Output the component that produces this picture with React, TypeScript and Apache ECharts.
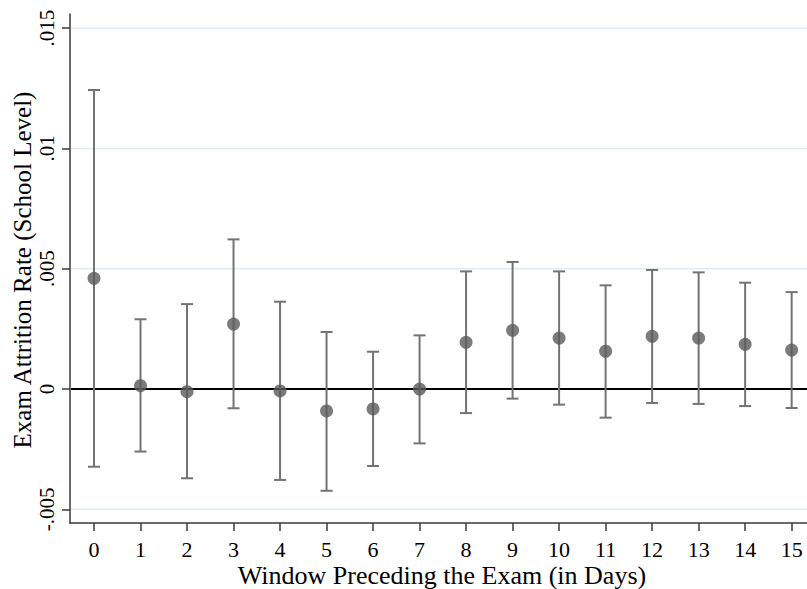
import React, { useEffect, useRef } from "react";
import * as echarts from "echarts";

const days = [0, 1, 2, 3, 4, 5, 6, 7, 8, 9, 10, 11, 12, 13, 14, 15];
const estimates = [0.0046, 0.00014, -0.00011, 0.0027, -0.00008, -0.00091, -0.00083, 0.0, 0.00194, 0.00244, 0.00212, 0.00157, 0.00219, 0.00212, 0.00186, 0.00162];
const upperCI = [0.01243, 0.0029, 0.00353, 0.00622, 0.00363, 0.00237, 0.00155, 0.00223, 0.00489, 0.00528, 0.00489, 0.00431, 0.00495, 0.00485, 0.00442, 0.00403];
const lowerCI = [-0.00323, -0.0026, -0.00371, -0.0008, -0.00378, -0.00423, -0.0032, -0.00226, -0.001, -0.0004, -0.00065, -0.00119, -0.00058, -0.00062, -0.00071, -0.00079];
const yTickValues = [-0.005, 0, 0.005, 0.01, 0.015];
const yTickLabels = ["-.005", "0", ".005", ".01", ".015"];
const xTitle = "Window Preceding the Exam (in Days)";
const yTitle = "Exam Attrition Rate (School Level)";

const FONT = "'Liberation Serif', 'Times New Roman', serif";

export default function App() {
  const ref = useRef<HTMLDivElement>(null);
  useEffect(() => {
    if (!ref.current) return;
    const chart = echarts.init(ref.current, null, { renderer: "svg" });
    const errData = days.map((d, i) => [d, lowerCI[i], upperCI[i]]);
    const option: any = {
      animation: false,
      backgroundColor: "#ffffff",
      grid: { left: 70, right: 0, top: 14, bottom: 66, containLabel: false },
      xAxis: {
        type: "value",
        min: -0.516,
        max: 15.33,
        axisLine: { show: true, onZero: false, lineStyle: { color: "#3a3a3a", width: 1.5 } },
        axisTick: { show: true, length: 8, customValues: days, lineStyle: { color: "#3a3a3a", width: 1.5 } },
        axisLabel: {
          customValues: days,
          margin: 15,
          fontFamily: FONT,
          fontSize: 22,
          color: "#000",
          formatter: (v: number) => String(Math.round(v)),
        },
        splitLine: { show: false },
      },
      yAxis: {
        type: "value",
        min: -0.00557,
        max: 0.01559,
        axisLine: { show: true, onZero: false, lineStyle: { color: "#3a3a3a", width: 1.5 } },
        axisTick: { show: true, length: 8, customValues: yTickValues, lineStyle: { color: "#3a3a3a", width: 1.5 } },
        axisLabel: {
          customValues: yTickValues,
          rotate: 90,
          margin: 13,
          fontFamily: FONT,
          fontSize: 21,
          color: "#000",
          formatter: (v: number) => {
            let best = 0;
            yTickValues.forEach((t, i) => {
              if (Math.abs(t - v) < Math.abs(yTickValues[best] - v)) best = i;
            });
            return yTickLabels[best];
          },
        },
        splitLine: { show: false },
      },
      series: [
        {
          type: "custom",
          silent: true,
          z: 1,
          data: yTickValues.map((v) => [0, v]),
          renderItem: (params: any, api: any) => {
            const v = api.value(1);
            const p = api.coord([0, v]);
            const cs = params.coordSys;
            const isZero = Math.abs(v) < 1e-12;
            return {
              type: "line",
              z2: isZero ? 10 : 1,
              shape: { x1: cs.x + 1, y1: p[1], x2: cs.x + cs.width, y2: p[1] },
              style: isZero
                ? { stroke: "#000000", lineWidth: 2 }
                : { stroke: "#e2ecee", lineWidth: 1.6 },
            };
          },
        },
        {
          type: "custom",
          data: errData,
          z: 3,
          renderItem: (params: any, api: any) => {
            const x = api.value(0);
            const lo = api.coord([x, api.value(1)]);
            const hi = api.coord([x, api.value(2)]);
            const cap = 6;
            const st = { stroke: "#737373", lineWidth: 2 };
            return {
              type: "group",
              children: [
                { type: "line", shape: { x1: lo[0], y1: lo[1], x2: hi[0], y2: hi[1] }, style: st },
                { type: "line", shape: { x1: lo[0] - cap, y1: lo[1], x2: lo[0] + cap, y2: lo[1] }, style: st },
                { type: "line", shape: { x1: hi[0] - cap, y1: hi[1], x2: hi[0] + cap, y2: hi[1] }, style: st },
              ],
            };
          },
        },
        {
          type: "scatter",
          data: days.map((d, i) => [d, estimates[i]]),
          symbol: "circle",
          symbolSize: 13,
          z: 4,
          itemStyle: { color: "#5a5a5a" },
        },
      ],
      graphic: [
        {
          type: "text",
          x: 22,
          y: 270,
          rotation: Math.PI / 2,
          style: {
            text: yTitle,
            fontFamily: FONT,
            fontSize: 25,
            fill: "#000",
            align: "center",
            verticalAlign: "middle",
          },
        },
        {
          type: "text",
          x: 442,
          y: 575,
          style: {
            text: xTitle,
            fontFamily: FONT,
            fontSize: 26,
            fill: "#000",
            align: "center",
            verticalAlign: "middle",
          },
        },
      ],
    };
    chart.setOption(option);
    return () => chart.dispose();
  }, []);
  return (
    <div
      ref={ref}
      style={{ position: "fixed", left: 0, top: 0, width: 807, height: 589, background: "#fff" }}
    />
  );
}
